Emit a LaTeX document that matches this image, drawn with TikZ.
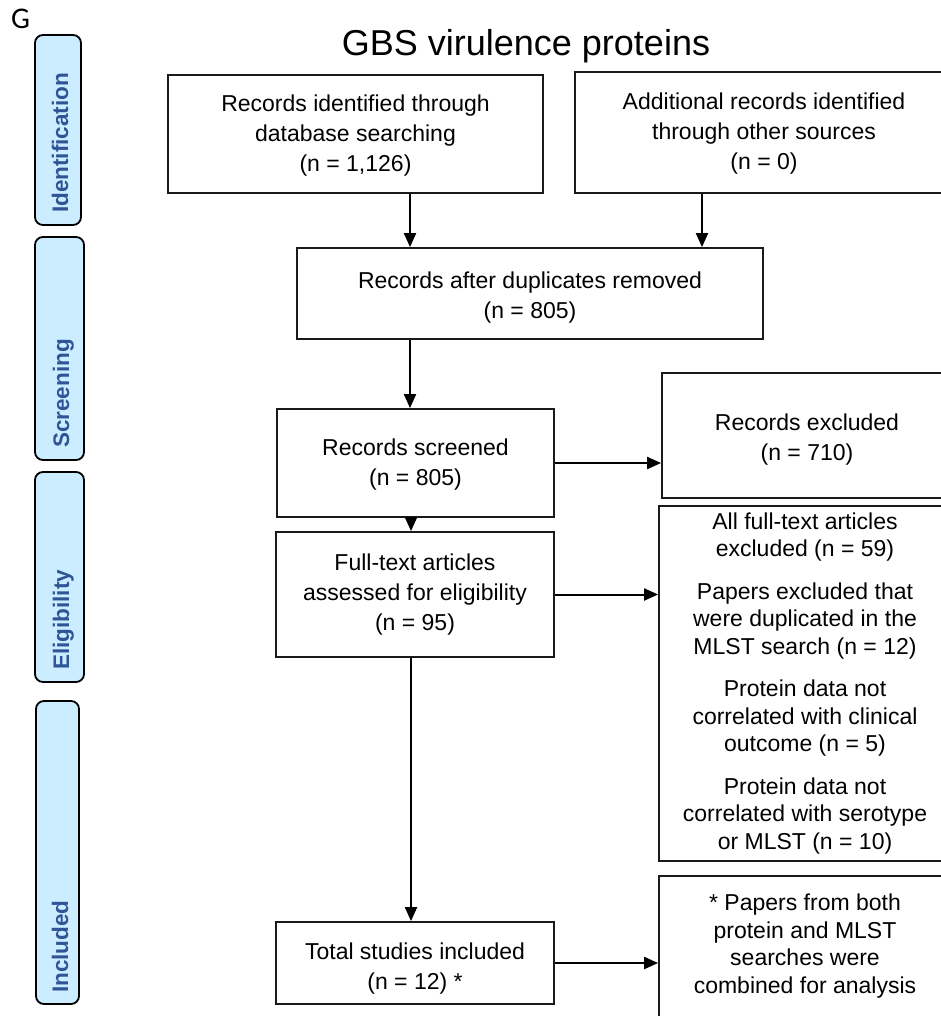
\documentclass[tikz,border=0pt]{standalone}
\usepackage{fontspec}
\setmainfont{Liberation Sans}
\newfontfamily\gfont{Carlito}
\usetikzlibrary{arrows.meta}
\definecolor{bandfill}{HTML}{CCECFF}
\definecolor{bandtext}{HTML}{2F5597}
\definecolor{boxline}{HTML}{1A1A1A}
\begin{document}
\begin{tikzpicture}[x=1pt,y=-1pt,
  box/.style={draw=boxline, line width=1.8pt, inner sep=0pt},
  bt/.style={inner sep=0pt, align=center, font=\fontsize{23}{30}\selectfont},
  txt/.style={inner sep=0pt, align=center, font=\fontsize{23}{27.5}\selectfont},
  band/.style={draw=black, line width=1.8pt, fill=bandfill, rounded corners=8pt, inner sep=0pt},
  bandlabel/.style={rotate=90, anchor=base west, inner sep=0pt,
    font=\fontsize{22.5}{27}\selectfont\bfseries, text=bandtext},
  arr/.style={-{Triangle[length=14pt,width=12pt]}, line width=2pt, draw=black},
]
\useasboundingbox (0,0) rectangle (941,1016);
\clip (0,0) rectangle (941,1016);

% panel letter and title
\node[font=\gfont\fontsize{30}{34}\selectfont, anchor=base west, inner sep=0pt] (glabel) at (11,29) {G};
\node[font=\fontsize{36}{42}\selectfont, inner sep=0pt, anchor=base] (title) at (526,56) {GBS virulence proteins};

% side bands
\node[band, minimum width=46pt, minimum height=190pt] (bid) at (58,130) {};
\node[bandlabel] (lid) at (68,213) {Identification};
\node[band, minimum width=49pt, minimum height=223pt] (bsc) at (59.5,348.5) {};
\node[bandlabel] (lsc) at (69,448) {Screening};
\node[band, minimum width=49pt, minimum height=210pt] (bel) at (59.5,577) {};
\node[bandlabel] (lel) at (69,670) {Eligibility};
\node[band, minimum width=43pt, minimum height=303pt] (bin) at (57.5,852.5) {};
\node[bandlabel] (lin) at (68,993) {Included};

% main boxes
\node[box, minimum width=375pt, minimum height=118pt,
  label={[bt, yshift=-2pt]center:{Records identified through\\database searching\\(n = 1,126)}}] (rid) at (355.5,134) {};
\node[box, minimum width=378pt, minimum height=121pt,
  label={[bt, yshift=-1pt]center:{Additional records identified\\through other sources\\(n = 0)}}] (add) at (764,132.5) {};
\node[box, minimum width=466pt, minimum height=91pt,
  label={[bt, yshift=-4pt]center:{Records after duplicates removed\\(n = 805)}}] (dup) at (530,293.5) {};
\node[box, minimum width=277pt, minimum height=108pt,
  label={[bt, yshift=-2pt]center:{Records screened\\(n = 805)}}] (scr) at (415.5,463) {};
\node[box, minimum width=290pt, minimum height=125pt,
  label={[bt, yshift=-4pt]center:{Records excluded\\(n = 710)}}] (exc) at (807,435.5) {};
\node[box, minimum width=278pt, minimum height=125pt,
  label={[bt]center:{Full-text articles\\assessed for eligibility\\(n = 95)}}] (ful) at (415,594.5) {};
\node[box, minimum width=292pt, minimum height=355pt,
  label={[txt, yshift=0pt]center:{All full-text articles\\excluded (n = 59)\\[15pt]
   Papers excluded that\\were duplicated in the\\MLST search (n = 12)\\[15pt]
   Protein data not\\correlated with clinical\\outcome (n = 5)\\[15pt]
   Protein data not\\correlated with serotype\\or MLST (n = 10)}}] (fex) at (805,683.5) {};
\node[box, minimum width=278pt, minimum height=82pt,
  label={[bt, yshift=-6pt]center:{Total studies included\\(n = 12) *}}] (tot) at (415,963) {};
\node[box, minimum width=292pt, minimum height=170pt, anchor=north] (foot) at (805,875) {};
\node[txt] (foottext) at (805,946)
  {* Papers from both\\protein and MLST\\searches were\\combined for analysis};

% connector columns
\coordinate (c1) at (410,0);
\coordinate (c2) at (702,0);
\coordinate (c3) at (411,0);

\draw[arr] (rid.south -| c1) -- (dup.north -| c1);
\draw[arr] (add.south -| c2) -- (dup.north -| c2);
\draw[arr] (dup.south -| c1) -- (scr.north -| c1);
\draw[arr] (scr.east) -- (scr.east -| exc.west);
\draw[arr] (scr.south -| c3) -- (ful.north -| c3);
\draw[arr] (ful.east) -- (ful.east -| fex.west);
\draw[arr] (ful.south -| c3) -- (tot.north -| c3);
\draw[arr] (tot.east) -- (tot.east -| foot.west);
\end{tikzpicture}
\end{document}
